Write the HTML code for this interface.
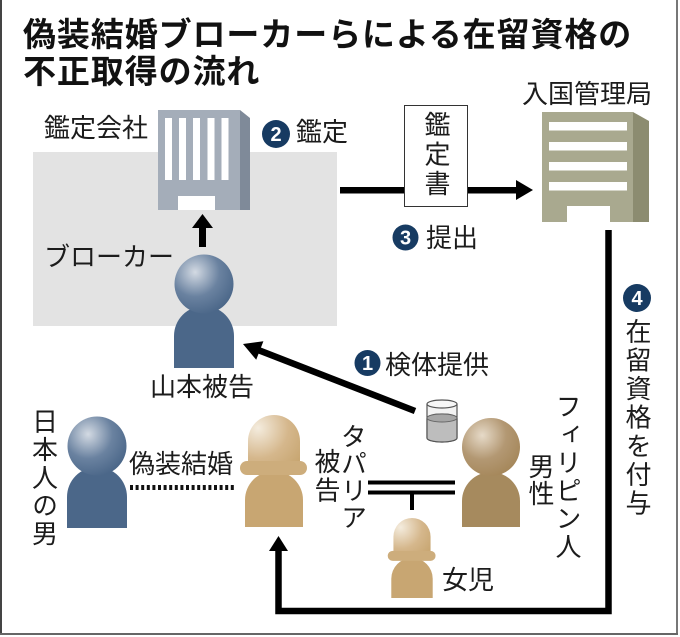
<!DOCTYPE html>
<html><head><meta charset="utf-8">
<style>
html,body{margin:0;padding:0;background:#fff;}
#c{position:relative;width:680px;height:637px;overflow:hidden;background:#fff;}
svg{position:absolute;left:0;top:0;}
.v{position:absolute;writing-mode:vertical-rl;font-family:"Liberation Sans","Noto Sans CJK JP",sans-serif;font-size:26px;line-height:26px;width:26px;white-space:nowrap;color:#1c1c1c;}
</style></head><body>
<div id="c">
<svg width="680" height="637" viewBox="0 0 680 637" xmlns="http://www.w3.org/2000/svg">
<defs>
<radialGradient id="gb" cx="0.35" cy="0.3" r="0.75"><stop offset="0" stop-color="#d3dae3"/><stop offset="0.55" stop-color="#6a82a0"/><stop offset="1" stop-color="#4a6688"/></radialGradient>
<radialGradient id="gf" cx="0.35" cy="0.3" r="0.75"><stop offset="0" stop-color="#e6dac8"/><stop offset="0.55" stop-color="#b39873"/><stop offset="1" stop-color="#a5875a"/></radialGradient>
<radialGradient id="gw" gradientUnits="userSpaceOnUse" cx="258" cy="428" r="55"><stop offset="0" stop-color="#f4ecde"/><stop offset="0.55" stop-color="#d5b78c"/><stop offset="1" stop-color="#c6a46e"/></radialGradient>
</defs>

<!-- frame -->
<rect x="0" y="0" width="2" height="635" fill="#444"/>
<rect x="676" y="0" width="2" height="635" fill="#777"/>
<rect x="0" y="633" width="678" height="2" fill="#666"/>

<!-- title -->
<g font-family="'Liberation Sans','Noto Sans CJK JP',sans-serif" font-weight="700" font-size="33" fill="#111" letter-spacing="0.9">
<text x="23" y="46">偽装結婚ブローカーらによる在留資格の</text>
<text x="23" y="83">不正取得の流れ</text>
</g>

<!-- gray box -->
<rect x="33" y="152" width="304" height="174" fill="#e3e3e3"/>

<!-- building 1 -->
<rect x="158" y="110" width="82" height="100" fill="#a4adb9"/>
<polygon points="240,110 250,118 250,210 240,210" fill="#7f8a99"/>
<g fill="#fff">
<rect x="165" y="118" width="7" height="62"/>
<rect x="179" y="118" width="7" height="62"/>
<rect x="193" y="118" width="7" height="62"/>
<rect x="207.5" y="118" width="7" height="62"/>
<rect x="221.5" y="118" width="7" height="62"/>
<rect x="178" y="196" width="37" height="14"/>
</g>

<!-- building 2 -->
<rect x="542" y="112" width="91" height="110" fill="#a9a98f"/>
<polygon points="633,112 649,121 649,222 633,222" fill="#8c8c70"/>
<g fill="#fff">
<rect x="549" y="122" width="78" height="8.5"/>
<rect x="549" y="142" width="78" height="8.5"/>
<rect x="549" y="162" width="78" height="8.5"/>
<rect x="549" y="182" width="78" height="8.5"/>
<rect x="567" y="206" width="43" height="16"/>
</g>

<!-- up arrow in gray box -->
<rect x="199" y="226" width="7" height="21" fill="#000"/>
<polygon points="202.5,214 192,228 213,228" fill="#000"/>

<!-- horizontal arrow with document -->
<rect x="340" y="187" width="64" height="6.5" fill="#000"/>
<rect x="468" y="187" width="51" height="6.5" fill="#000"/>
<polygon points="533,190 516,180 516,200" fill="#000"/>
<rect x="404.5" y="105.5" width="63" height="101" fill="#fff" stroke="#333" stroke-width="1"/>

<!-- big L arrow -->
<polyline points="608.5,230 608.5,611 278.5,611 278.5,548" fill="none" stroke="#000" stroke-width="6.5" stroke-linejoin="miter"/>
<polygon points="278.5,536 269,551 288,551" fill="#000"/>

<!-- diagonal arrow -->
<line x1="415" y1="411" x2="259" y2="350.3" stroke="#000" stroke-width="6.5"/>
<polygon points="243,344 263.4,341.2 256.2,359.8" fill="#000"/>

<!-- cup -->
<path d="M427,404 V438 A15,4 0 0 0 457,438 V404" fill="#f3f3f3" stroke="#555" stroke-width="1.2"/>
<path d="M427,418 V438 A15,4 0 0 0 457,438 V418 A15,4 0 0 0 427,418 Z" fill="#bdbdbd" stroke="#555" stroke-width="1.2"/>
<ellipse cx="442" cy="418" rx="15" ry="4" fill="#a6a6a6" stroke="#666" stroke-width="1"/>
<ellipse cx="442" cy="404" rx="15" ry="4" fill="#f7f7f7" stroke="#555" stroke-width="1.2"/>

<!-- Yamamoto -->
<path d="M174,368 V336 A30,30 0 0 1 234,336 V368 Z" fill="#4b6789"/>
<circle cx="204" cy="284" r="29.5" fill="url(#gb)"/>

<!-- Japanese man -->
<path d="M67,528 V497 A30,30 0 0 1 127,497 V528 Z" fill="#4b6789"/>
<circle cx="97" cy="446" r="29.5" fill="url(#gb)"/>

<!-- Filipino man -->
<path d="M462,527 V501 A29,29 0 0 1 520,501 V527 Z" fill="#a68a5e"/>
<circle cx="491" cy="447" r="29" fill="url(#gf)"/>

<!-- Tapalia woman -->
<g id="woman">
<path d="M245,527 V500 A29,29 0 0 1 303,500 V527 Z" fill="#c8a672"/>
<path d="M248,463 V441 A26,26 0 0 1 300,441 V463 Z" fill="url(#gw)"/>
<rect x="240" y="461" width="67" height="14" rx="7" fill="#cdad7c"/>
</g>
<!-- child -->
<g transform="translate(412,518) scale(0.714) translate(-274,-415)">
<path d="M245,527 V500 A29,29 0 0 1 303,500 V527 Z" fill="#c8a672"/>
<path d="M248,463 V441 A26,26 0 0 1 300,441 V463 Z" fill="url(#gw)"/>
<rect x="240" y="461" width="67" height="14" rx="7" fill="#cdad7c"/>
</g>

<!-- dotted line -->
<line x1="130" y1="487.5" x2="235" y2="487.5" stroke="#111" stroke-width="5" stroke-dasharray="3 2.6"/>

<!-- double line + drop -->
<rect x="368" y="480.5" width="87" height="4" fill="#000"/>
<rect x="368" y="490.5" width="87" height="4" fill="#000"/>
<rect x="410" y="494" width="4" height="16" fill="#000"/>

<!-- number circles -->
<g font-family="'Liberation Sans',sans-serif" font-weight="700" font-size="20" fill="#fff" text-anchor="middle">
<circle cx="276" cy="134" r="14" fill="#173b62"/><text x="276" y="141">2</text>
<circle cx="405.5" cy="237.5" r="13" fill="#173b62"/><text x="405.5" y="244.5">3</text>
<circle cx="367.5" cy="363" r="13" fill="#173b62"/><text x="367.5" y="370">1</text>
<circle cx="637" cy="298" r="14" fill="#173b62"/><text x="637" y="305">4</text>
</g>

<!-- labels -->
<g font-family="'Liberation Sans','Noto Sans CJK JP',sans-serif" font-size="26" fill="#1c1c1c">
<text x="522" y="103">入国管理局</text>
<text x="44" y="137">鑑定会社</text>
<text x="296" y="141">鑑定</text>
<text x="44" y="266">ブローカー</text>
<text x="150" y="396">山本被告</text>
<text x="385" y="374">検体提供</text>
<text x="426" y="247">提出</text>
<text x="129" y="473">偽装結婚</text>
<text x="442" y="589">女児</text>
</g>
</svg>

<div class="v" style="left:423px;top:111px;letter-spacing:3.5px;">鑑定書</div>
<div class="v" style="left:624px;top:318px;letter-spacing:2.6px;">在留資格を付与</div>
<div class="v" style="left:30.5px;top:408px;letter-spacing:2px;">日本人の男</div>
<div class="v" style="left:339.5px;top:423px;letter-spacing:1px;">タパリア</div>
<div class="v" style="left:313px;top:448px;letter-spacing:2.5px;">被告</div>
<div class="v" style="left:527px;top:453px;letter-spacing:1px;">男性</div>
<div class="v" style="left:554px;top:393px;letter-spacing:2px;">フィリピン人</div>
</div>
</body></html>
